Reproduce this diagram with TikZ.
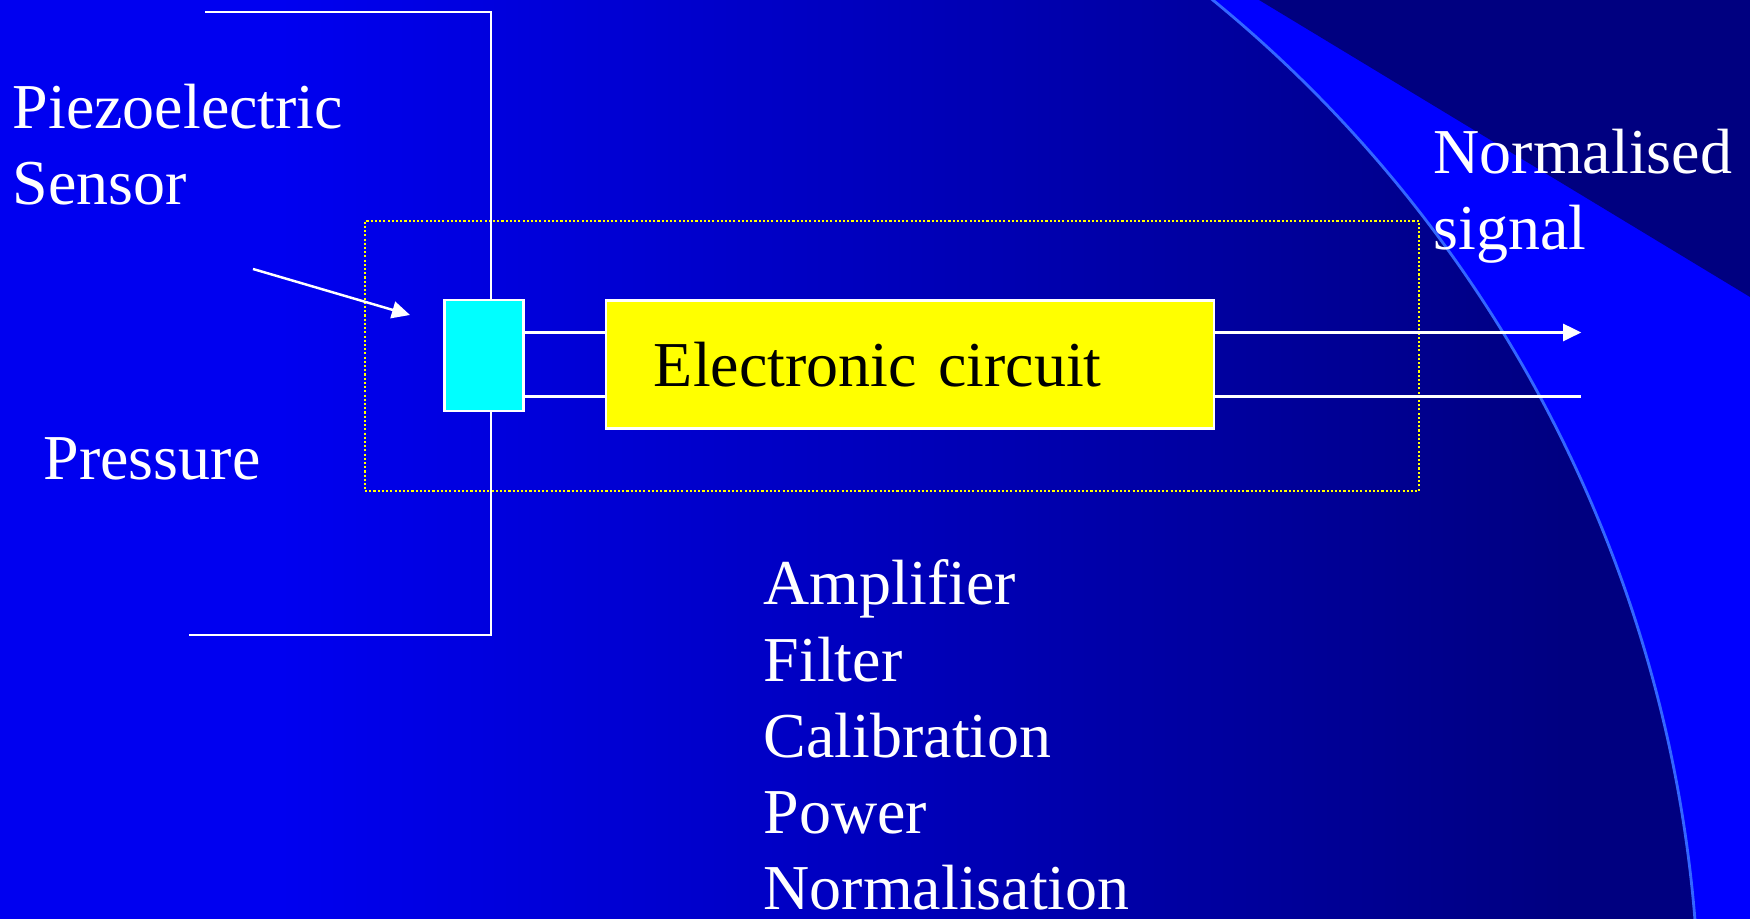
\documentclass[tikz,border=0pt]{standalone}
\usepackage{fontspec}
\setmainfont{Liberation Serif}
\usetikzlibrary{arrows.meta,calc,positioning}
\definecolor{slideL}{HTML}{0000F0}
\definecolor{slideR}{HTML}{000080}
\definecolor{bright}{HTML}{0000FF}
\definecolor{rim}{HTML}{3366FF}
\definecolor{sensorfill}{HTML}{00FFFF}
\definecolor{circfill}{HTML}{FFFF00}
\pgfdeclarehorizontalshading{slide}{100bp}{color(0bp)=(slideL); color(33bp)=(slideL); color(70bp)=(slideR); color(100bp)=(slideR)}
\tikzset{
  wire/.style={draw=white,line width=0.7pt},
  sigarrow/.style={-{Triangle[length=1.8mm,width=1.7mm]}},
  slidetext/.style={text=white,font=\fontsize{18.2}{21.7}\selectfont,inner sep=0pt,align=left}
}

\begin{document}
\begin{tikzpicture}[
    sensorbox/.style={draw=white,line width=0.7pt,fill=sensorfill,minimum width=0.79cm,minimum height=1.11cm,inner sep=0pt},
    circbox/.style={draw=white,line width=0.7pt,fill=circfill,minimum height=1.28cm,text width=5.12cm,inner xsep=0.48cm,align=left,font=\fontsize{18.2}{21.7}\selectfont},
    dotbox/.style={draw=circfill,line width=0.8pt,dash pattern=on 0.6pt off 0.6pt,minimum width=10.54cm,minimum height=2.70cm,inner sep=0pt}
  ]
    % slide background
    \useasboundingbox (0,0) rectangle (17.5,9.19);
    \clip (0,0) rectangle (17.5,9.19);
    \shade[shading=slide] (0,0) rectangle (17.5,9.19);
    \coordinate (ctr) at (3.722,-1.079);
    \fill[bright] ($(ctr)+(60:13.27)$) arc[start angle=60,end angle=-10,radius=13.27] -- (18,-3) -- (18,12) -- cycle;
    \fill[slideR] (12.59,9.19) -- (17.5,6.22) -- (17.5,9.19) -- cycle;
    \draw[rim,line width=0.8pt] ($(ctr)+(60:13.27)$) arc[start angle=60,end angle=-10,radius=13.27];

    % blocks
    \node[dotbox] (m) at (8.92,5.63) {};
    \node[sensorbox] (s) at (4.84,5.635) {};
    \node[circbox,right=0.8cm of s,yshift=-0.9mm] (c) {Electronic circuit};

    % sensor leads
    \coordinate (lead) at (4.91,0);
    \coordinate (ptop) at (2.05,9.07);
    \coordinate (pbot) at (1.89,2.84);
    \draw[wire] (ptop) -- (ptop -| lead) -- (s.north -| lead);
    \draw[wire] (pbot) -- (pbot -| lead) -- (s.south -| lead);

    % signal lines
    \coordinate (hi) at ($(c.west)+(0,0.32)$);
    \coordinate (lo) at ($(c.west)+(0,-0.32)$);
    \coordinate (outhi) at ($(c.east)+(3.66,0.32)$);
    \coordinate (outlo) at ($(c.east)+(3.66,-0.32)$);
    \draw[wire] (s.east |- hi) -- (hi);
    \draw[wire] (s.east |- lo) -- (lo);
    \draw[wire,sigarrow] (c.east |- outhi) -- (outhi);
    \draw[wire] (c.east |- outlo) -- (outlo);

    % pressure arrow
    \coordinate (pfrom) at (2.53,6.50);
    \coordinate (pto) at (4.10,6.04);
    \draw[wire,sigarrow] (pfrom) -- (pto);

    % labels (base = last line)
    \node[slidetext,anchor=base west] (pz) at (0.12,7.14) {Piezoelectric\\Sensor};
    \node[slidetext,anchor=base west] (pr) at (0.43,4.39) {Pressure};
    \node[slidetext,anchor=base west] (ns) at (14.33,6.69) {Normalised\\signal};
    \node[slidetext,anchor=base west] (fn) at (7.63,0.09) {Amplifier\\Filter\\Calibration\\Power\\Normalisation};
\end{tikzpicture}
\end{document}
